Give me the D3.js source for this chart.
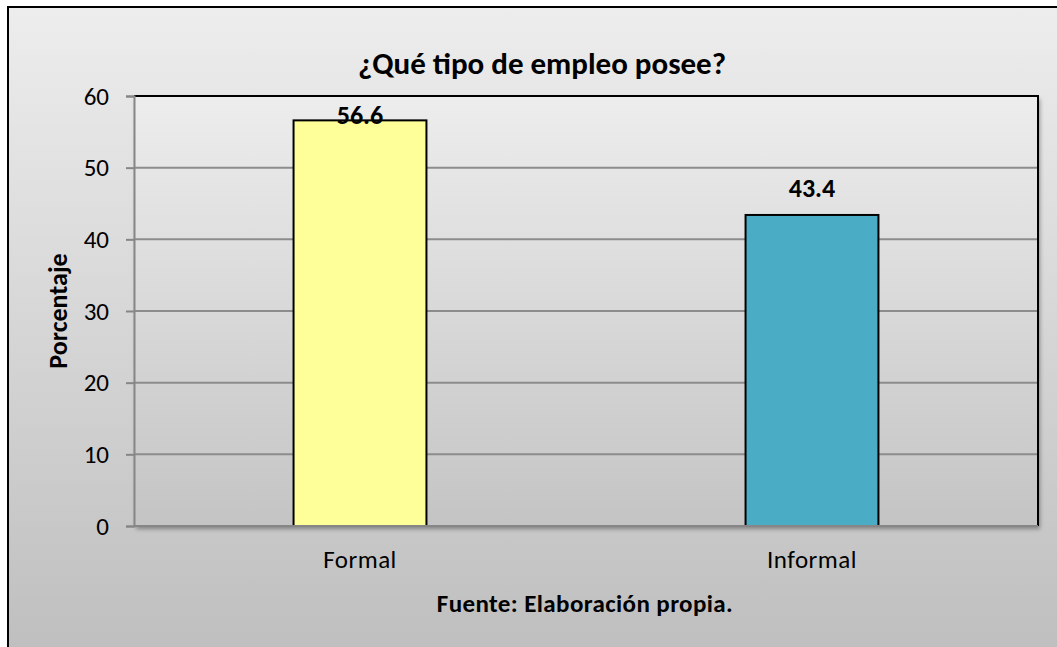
<!DOCTYPE html>
<html>
<head>
<meta charset="utf-8">
<script src="https://cdn.jsdelivr.net/npm/d3@7"></script>
<style>
  body { margin: 0; background: #fff; }
  text { font-family: Carlito, Calibri, Lato, sans-serif; fill: #000; }
</style>
</head>
<body>
<svg id="chart" width="1057" height="647"></svg>
<script>
// Data
var categories = ["Formal", "Informal"];
var values = [56.6, 43.4];
var barColors = ["#ffff99", "#4bacc6"];
var yTicks = [0, 10, 20, 30, 40, 50, 60];

var svg = d3.select("#chart");
var W = 1057, H = 647;
var plot = { left: 134, top: 96, right: 1038, bottom: 526 };

var defs = svg.append("defs");
var g1 = defs.append("linearGradient").attr("id", "bgGrad")
  .attr("x1", 0).attr("y1", 0).attr("x2", 0).attr("y2", 1);
g1.append("stop").attr("offset", "0%").attr("stop-color", "#ededed");
g1.append("stop").attr("offset", "100%").attr("stop-color", "#bdbdbd");
var g2 = defs.append("linearGradient").attr("id", "plotGrad")
  .attr("x1", 0).attr("y1", 0).attr("x2", 0).attr("y2", 1);
g2.append("stop").attr("offset", "0%").attr("stop-color", "#ededed");
g2.append("stop").attr("offset", "100%").attr("stop-color", "#c4c4c4");
var shadow = defs.append("filter").attr("id", "shadow")
  .attr("x", "-5%").attr("y", "-5%").attr("width", "110%").attr("height", "115%");
shadow.append("feDropShadow").attr("dx", 2).attr("dy", 3)
  .attr("stdDeviation", 2).attr("flood-color", "#000").attr("flood-opacity", 0.35);

// outer frame (runs off the right and bottom edges)
svg.append("rect")
   .attr("x", 8).attr("y", 7)
   .attr("width", W + 20).attr("height", H + 20)
   .attr("fill", "url(#bgGrad)")
   .attr("stroke", "#000").attr("stroke-width", 2);

// scales
var x = d3.scaleBand().domain(categories)
          .range([plot.left, plot.right])
          .paddingInner(0.706).paddingOuter(0.353);
var y = d3.scaleLinear().domain([0, 60]).range([plot.bottom, plot.top]);

// plot area
svg.append("rect")
   .attr("x", plot.left).attr("y", plot.top)
   .attr("width", plot.right - plot.left).attr("height", plot.bottom - plot.top)
   .attr("fill", "url(#plotGrad)")
   .attr("filter", "url(#shadow)");

// gridlines
svg.selectAll(".grid")
   .data(yTicks.filter(function(d) { return d > 0 && d < 60; }))
   .enter()
   .append("line")
   .attr("class", "grid")
   .attr("x1", plot.left).attr("x2", plot.right)
   .attr("y1", function(d) { return y(d); })
   .attr("y2", function(d) { return y(d); })
   .attr("stroke", "#8c8c8c").attr("stroke-width", 2);

// top and right border of plot
svg.append("path")
   .attr("d", "M" + plot.left + "," + plot.top + "H" + plot.right + "V" + plot.bottom)
   .attr("fill", "none").attr("stroke", "#000").attr("stroke-width", 2);

// bars
svg.selectAll(".bar")
   .data(values)
   .enter()
   .append("rect")
   .attr("class", "bar")
   .attr("x", function(d, i) { return x(categories[i]); })
   .attr("y", function(d) { return y(d); })
   .attr("width", x.bandwidth())
   .attr("height", function(d) { return y(0) - y(d); })
   .attr("fill", function(d, i) { return barColors[i]; })
   .attr("stroke", "#000").attr("stroke-width", 2);

// y axis
var yAxis = svg.append("g")
   .attr("transform", "translate(" + plot.left + ",0)")
   .call(d3.axisLeft(y).tickValues(yTicks).tickSize(8).tickPadding(17));
yAxis.select(".domain").attr("stroke", "#868686").attr("stroke-width", 2);
yAxis.selectAll(".tick line").attr("stroke", "#868686").attr("stroke-width", 2);
yAxis.selectAll(".tick text")
     .style("font-family", "Carlito, Calibri, Lato, sans-serif")
     .style("font-size", "25px").attr("fill", "#000");

// x axis line
svg.append("line")
   .attr("x1", plot.left).attr("x2", plot.right)
   .attr("y1", plot.bottom).attr("y2", plot.bottom)
   .attr("stroke", "#868686").attr("stroke-width", 2);

// category labels
svg.selectAll(".cat")
   .data(categories)
   .enter()
   .append("text")
   .attr("class", "cat")
   .attr("x", function(d) { return x(d) + x.bandwidth() / 2; })
   .attr("y", 568)
   .attr("text-anchor", "middle")
   .style("font-size", "25px").style("letter-spacing", "0.5px")
   .text(function(d) { return d; });

// data labels (clamped inside the plot like Excel)
svg.selectAll(".val")
   .data(values)
   .enter()
   .append("text")
   .attr("class", "val")
   .attr("x", function(d, i) { return x(categories[i]) + x.bandwidth() / 2; })
   .attr("y", function(d) { return Math.max(y(d) - 18, plot.top + 28); })
   .attr("text-anchor", "middle")
   .style("font-size", "26px").style("font-weight", "bold")
   .text(function(d) { return d.toFixed(1); });

// title
svg.append("text")
   .attr("x", 542).attr("y", 74)
   .attr("text-anchor", "middle")
   .style("font-size", "31px").style("font-weight", "bold")
   .text("¿Qué tipo de empleo posee?");

// y axis title
svg.append("text")
   .attr("transform", "translate(67,311) rotate(-90)")
   .attr("text-anchor", "middle")
   .style("font-size", "26px").style("font-weight", "bold")
   .text("Porcentaje");

// source note
svg.append("text")
   .attr("x", 585).attr("y", 612)
   .attr("text-anchor", "middle")
   .style("font-size", "25px").style("font-weight", "bold").style("letter-spacing", "0.4px")
   .text("Fuente: Elaboración propia.");
</script>
</body>
</html>
